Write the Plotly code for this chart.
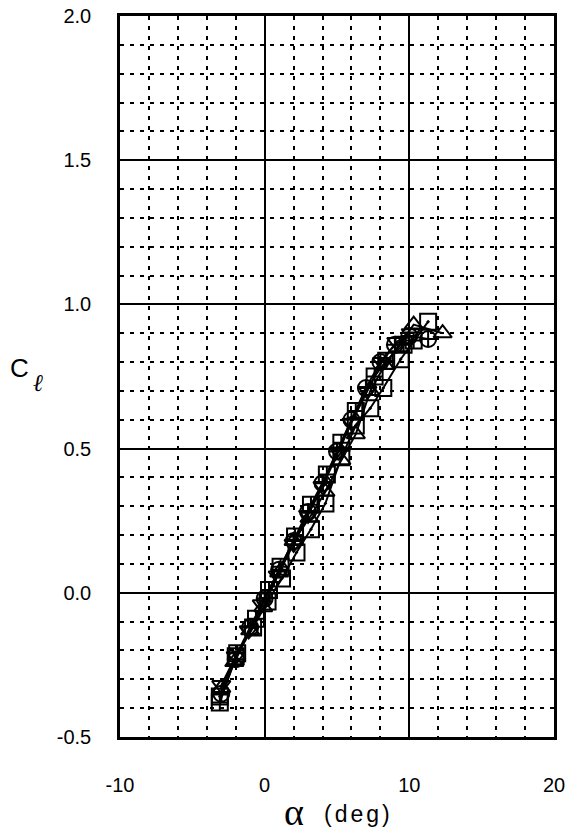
import plotly.graph_objects as go

# Data (alpha in deg, Cl)
s1_x = [-3.1, -1.9, -0.6, 0.3, 1.1, 2.1, 3.2, 4.3, 5.3, 6.3, 7.6, 8.4, 9.6, 10.3]
s1_y = [-0.38, -0.21, -0.09, 0.01, 0.09, 0.195, 0.305, 0.41, 0.52, 0.63, 0.75, 0.805, 0.86, 0.875]

s2_x = [-3.1, -2.0, -0.8, 0.2, 1.2, 2.2, 3.2, 4.2, 5.3, 6.3, 7.3, 8.2, 9.4, 11.3]
s2_y = [-0.36, -0.22, -0.12, -0.03, 0.05, 0.14, 0.22, 0.31, 0.47, 0.58, 0.64, 0.71, 0.81, 0.94]

s3_x = [-3.0, -2.1, -1.0, -0.1, 1.0, 2.0, 3.1, 4.2, 5.3, 6.3, 7.3, 8.3, 10.3, 12.3]
s3_y = [-0.33, -0.24, -0.13, -0.05, 0.07, 0.18, 0.26, 0.35, 0.46, 0.55, 0.70, 0.79, 0.93, 0.90]

s4_x = [-3.0, -2.0, -1.1, -0.2, 0.9, 2.0, 3.0, 4.0, 5.1, 6.0, 7.1, 8.1, 9.1, 10.1]
s4_y = [-0.32, -0.22, -0.13, -0.04, 0.06, 0.17, 0.27, 0.37, 0.49, 0.59, 0.70, 0.80, 0.87, 0.90]

s5_x = [-3.0, -2.0, -1.0, 0.0, 1.0, 2.0, 3.0, 4.0, 5.0, 6.0, 7.0, 8.0, 9.0, 10.0, 11.3]
s5_y = [-0.35, -0.23, -0.12, -0.02, 0.08, 0.18, 0.28, 0.38, 0.49, 0.60, 0.71, 0.80, 0.86, 0.89, 0.88]

series = [
    (s5_x, s5_y, "circle-cross-open"),
    (s4_x, s4_y, "triangle-down-open"),
    (s3_x, s3_y, "triangle-up-open"),
    (s2_x, s2_y, "square-open-dot"),
    (s1_x, s1_y, "square-cross-open"),
]

x_ticks = [-10, 0, 10, 20]
y_ticks = [-0.5, 0.0, 0.5, 1.0, 1.5, 2.0]
y_labels = ["-0.5", "0.0", "0.5", "1.0", "1.5", "2.0"]

fig = go.Figure()
for xs, ys, sym in series:
    fig.add_trace(go.Scatter(
        x=xs, y=ys, mode="lines+markers",
        line=dict(color="black", width=2),
        marker=dict(symbol=sym, size=16, color="black",
                    line=dict(color="black", width=2)),
        showlegend=False,
    ))

fam = "Liberation Sans, Arial, sans-serif"
serif = "Liberation Serif, Times New Roman, serif"
tickfont = dict(family=fam, size=20, color="black")

L, R, T, B = 120, 17, 16, 97
W, H = 571, 834
pw = W - L - R
ph = H - T - B


def px(x):
    return (x - L) / pw


def py(y):
    return (H - B - y) / ph


def label(text, x, y, size, family):
    return dict(text=text, x=px(x), y=py(y), xref="paper", yref="paper",
                showarrow=False, font=dict(size=size, family=family, color="black"),
                xanchor="center", yanchor="middle")


fig.update_layout(
    width=W, height=H,
    margin=dict(l=L, r=R, t=T, b=B, autoexpand=False),
    paper_bgcolor="white", plot_bgcolor="white",
    font=dict(family=fam, size=20, color="black"),
    xaxis=dict(
        range=[-10, 20], tickvals=x_ticks, ticktext=[str(v) for v in x_ticks],
        tickfont=tickfont, automargin=False,
        showgrid=True, gridcolor="black", gridwidth=1.5,
        minor=dict(dtick=2, tick0=0, showgrid=True, gridcolor="black",
                   gridwidth=2, griddash="4px,6px"),
        showline=True, linecolor="black", linewidth=2.5, mirror=True,
        zeroline=False, ticks="", ticklabelstandoff=28,
    ),
    yaxis=dict(
        range=[-0.5, 2.0], tickvals=y_ticks, ticktext=y_labels,
        tickfont=tickfont, automargin=False,
        showgrid=True, gridcolor="black", gridwidth=1.5,
        minor=dict(dtick=0.1, tick0=0, showgrid=True, gridcolor="black",
                   gridwidth=2, griddash="4px,6px"),
        showline=True, linecolor="black", linewidth=2.5, mirror=True,
        zeroline=False, ticks="", ticklabelstandoff=22,
    ),
    annotations=[
        label("C", 19, 368, 26, fam),
        label("<i>ℓ</i>", 38, 383, 24, serif),
        label("α", 294, 812, 38, serif),
        label("<span style='letter-spacing:3px'>(deg)</span>", 358, 814, 23, fam),
    ],
)

fig.write_html("out.html", config={"displayModeBar": False},
               post_script="document.body.style.margin='0';")
